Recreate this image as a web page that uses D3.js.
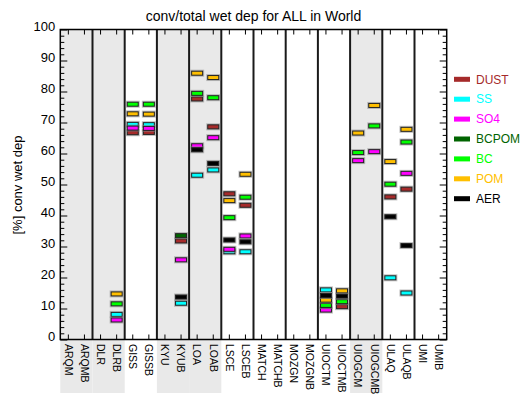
<!DOCTYPE html>
<html>
<head>
<meta charset="utf-8">
<script src="https://cdn.jsdelivr.net/npm/d3@7"></script>
<style>
  html, body { margin: 0; padding: 0; background: #fff; }
  svg { display: block; font-family: "Liberation Sans", Arial, sans-serif; }
</style>
</head>
<body>
<svg id="chart" width="521" height="395"></svg>
<script>
// Models (pairs share a shaded group)
const models = ["ARQM","ARQMB","DLR","DLRB","GISS","GISSB","KYU","KYUB","LOA","LOAB",
  "LSCE","LSCEB","MATCH","MATCHB","MOZGN","MOZGNB","UIOCTM","UIOCTMB","UIOGCM","UIOGCMB",
  "ULAQ","ULAQB","UMI","UMIB"];
const shadedGroups = ["ARQM","DLR","KYU","LOA","UIOGCM"];

// Convective / total wet deposition [%] per species, same order as models (null = no data)
const dust  = [null,null,null,null,66.7,66.8,null,31.8,77.6,68.6,47.0,43.3,null,null,null,null,null,10.6,null,null,46.0,48.5,null,null];
const ss    = [null,null,null,8.1,69.4,69.3,null,11.7,53.0,54.7,28.3,28.3,null,null,null,null,16.0,null,null,null,19.9,15.0,null,null];
const so4   = [null,null,null,6.3,68.2,68.1,null,25.7,62.5,65.1,29.1,33.4,null,null,null,null,9.5,null,57.7,60.6,null,53.6,null,null];
const bcpom = [null,null,null,null,null,null,null,33.5,null,null,null,null,null,null,null,null,null,null,null,null,null,null,null,null];
const bc    = [null,null,null,11.5,75.9,75.9,null,null,79.4,78.0,39.3,45.9,null,null,null,null,11.0,12.2,60.3,68.9,50.1,63.7,null,null];
const pom   = [null,null,null,14.7,72.8,72.7,null,null,85.9,84.5,44.8,53.3,null,null,null,null,12.7,15.7,66.6,75.5,57.4,67.8,null,null];
const aer   = [null,null,null,null,null,null,null,13.7,61.2,56.8,32.1,31.5,null,null,null,null,14.2,14.0,null,null,39.6,30.3,null,null];

const speciesNames  = ["DUST","SS","SO4","BCPOM","BC","POM","AER"];
const speciesValues = [dust, ss, so4, bcpom, bc, pom, aer];
const speciesColors = ["#A52A2A","#00FFFF","#FF00FF","#006400","#00FF00","#FFBF00","#000000"];

const yTicks = [0,10,20,30,40,50,60,70,80,90,100];
const yMinor = d3.range(0, 101, 2).filter(v => v % 10 !== 0);

const svg = d3.select("#chart");
const plotL = 60.3, plotR = 446.7, plotT = 29.5, plotB = 339.5;

const x = d3.scaleBand().domain(models).range([plotL, plotR]);
const y = d3.scaleLinear().domain([0, 100]).range([plotB, plotT]);
const bw = x.bandwidth();

// shaded model groups, running down through the label area
svg.append("g").selectAll("rect")
  .data(shadedGroups)
  .join("rect")
  .attr("x", d => x(d))
  .attr("y", plotT)
  .attr("width", bw * 2)
  .attr("height", 393 - plotT)
  .attr("fill", "#E9E9E9");

// group separators
svg.append("g").selectAll("line")
  .data(models.filter((d, i) => i > 0 && i % 2 === 0))
  .join("line")
  .attr("x1", d => x(d)).attr("x2", d => x(d))
  .attr("y1", plotT).attr("y2", plotB)
  .attr("stroke", "#1a1a1a")
  .attr("stroke-width", 2);

// y axes (ticks pointing inward on both sides)
const yAxisL = svg.append("g").attr("transform", `translate(${plotL},0)`)
  .call(d3.axisLeft(y).tickValues(yTicks).tickSize(-7).tickPadding(5).tickFormat(d3.format("d")));
svg.append("g").attr("transform", `translate(${plotL},0)`)
  .call(d3.axisLeft(y).tickValues(yMinor).tickSize(-4).tickFormat(""));
svg.append("g").attr("transform", `translate(${plotR},0)`)
  .call(d3.axisRight(y).tickValues(yTicks).tickSize(-7).tickFormat(""));
svg.append("g").attr("transform", `translate(${plotR},0)`)
  .call(d3.axisRight(y).tickValues(yMinor).tickSize(-4).tickFormat(""));

// x ticks at model centres (top and bottom, inward)
svg.append("g").attr("transform", `translate(0,${plotB})`)
  .call(d3.axisBottom(x).tickSize(-5).tickFormat(""));
svg.append("g").attr("transform", `translate(0,${plotT})`)
  .call(d3.axisTop(x).tickSize(-5).tickFormat(""));

svg.selectAll(".domain").remove();
svg.selectAll(".tick line").attr("stroke", "#000").attr("stroke-width", 1);
yAxisL.selectAll("text").attr("font-size", 13).attr("fill", "#000")
  .attr("y", -3)
  .attr("font-family", "Liberation Sans, Arial, sans-serif");

// frame
svg.append("rect")
  .attr("x", plotL).attr("y", plotT)
  .attr("width", plotR - plotL).attr("height", plotB - plotT)
  .attr("fill", "none").attr("stroke", "#000").attr("stroke-width", 1.5);

// rotated model labels
svg.append("g").selectAll("text")
  .data(models)
  .join("text")
  .attr("transform", d => `translate(${x(d) + bw / 2},344) rotate(90)`)
  .attr("dy", "0.35em")
  .attr("font-size", 10.5)
  .attr("fill", "#000")
  .text(d => d);

// markers
const mw = 11, mh = 4;
speciesNames.forEach((name, si) => {
  const pts = models.map((m, i) => ({ m, v: speciesValues[si][i] })).filter(p => p.v != null);
  const g = svg.append("g");
  g.selectAll("rect.halo")
    .data(pts)
    .join("rect")
    .attr("class", "halo")
    .attr("x", p => x(p.m) + bw / 2 - mw / 2 - 1.5)
    .attr("y", p => y(p.v) - mh / 2 - 1.5)
    .attr("width", mw + 3).attr("height", mh + 3)
    .attr("fill", "#8a8a8a").attr("opacity", 0.55);
  g.selectAll("rect.mark")
    .data(pts)
    .join("rect")
    .attr("class", "mark")
    .attr("x", p => x(p.m) + bw / 2 - mw / 2)
    .attr("y", p => y(p.v) - mh / 2)
    .attr("width", mw).attr("height", mh)
    .attr("fill", speciesColors[si])
    .attr("stroke", "#222").attr("stroke-width", 1);
});

// title and y label
svg.append("text")
  .attr("x", 253.5).attr("y", 21)
  .attr("text-anchor", "middle")
  .attr("font-size", 14)
  .attr("fill", "#000")
  .text("conv/total wet dep for ALL in World");

svg.append("text")
  .attr("transform", `translate(22,185) rotate(-90)`)
  .attr("text-anchor", "middle")
  .attr("font-size", 13)
  .attr("fill", "#000")
  .text("[%] conv wet dep");

// legend
const legend = svg.append("g").selectAll("g")
  .data(speciesNames)
  .join("g")
  .attr("transform", (d, i) => `translate(454,${79.3 + i * 19.9})`);
legend.append("rect")
  .attr("x", 0).attr("y", -2.5).attr("width", 16).attr("height", 5)
  .attr("fill", (d, i) => speciesColors[i]);
legend.append("text")
  .attr("x", 22).attr("dy", "0.35em")
  .attr("font-size", 12)
  .attr("fill", (d, i) => speciesColors[i])
  .text(d => d);
</script>
</body>
</html>
